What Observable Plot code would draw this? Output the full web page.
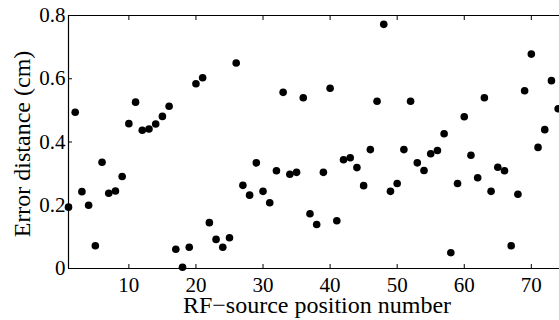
<!DOCTYPE html>
<html>
<head>
<meta charset="utf-8">
<script src="https://cdn.jsdelivr.net/npm/d3@7"></script>
<script src="https://cdn.jsdelivr.net/npm/@observablehq/plot@0.6"></script>
<style>
  html, body { margin: 0; padding: 0; background: #fff; overflow: hidden; }
  svg text { font-family: "Liberation Serif", "Times New Roman", serif; }
</style>
</head>
<body>
<div id="chart"></div>
<script>
const positions = d3.range(1, 75);
const errors = [
  0.194, 0.494, 0.243, 0.200, 0.072, 0.336, 0.238, 0.245, 0.291, 0.458,
  0.526, 0.437, 0.441, 0.457, 0.481, 0.513, 0.061, 0.004, 0.067, 0.584,
  0.603, 0.145, 0.092, 0.067, 0.097, 0.650, 0.263, 0.232, 0.334, 0.244,
  0.208, 0.309, 0.557, 0.298, 0.304, 0.540, 0.173, 0.139, 0.304, 0.570,
  0.151, 0.344, 0.350, 0.319, 0.262, 0.376, 0.529, 0.772, 0.244, 0.269,
  0.376, 0.529, 0.334, 0.310, 0.363, 0.373, 0.426, 0.050, 0.269, 0.480,
  0.358, 0.287, 0.540, 0.244, 0.320, 0.309, 0.072, 0.235, 0.562, 0.678,
  0.383, 0.439, 0.594, 0.505
];
const xTicks = [10, 20, 30, 40, 50, 60, 70];
const yTicks = [0, 0.2, 0.4, 0.6, 0.8];
const xLabel = "RF\u2212source position number";
const yLabel = "Error distance (cm)";

const data = positions.map((p, i) => ({position: p, error: errors[i]}));
const font = "Liberation Serif";

const chart = Plot.plot({
  width: 559,
  height: 320,
  marginLeft: 68,
  marginTop: 15,
  marginBottom: 52,
  marginRight: 0,
  style: {color: "black", background: "white", overflow: "hidden"},
  x: {domain: [1, 74.2]},
  y: {domain: [0, 0.8]},
  marks: [
    Plot.ruleY([0, 0.8], {stroke: "black", strokeWidth: 1.2}),
    Plot.ruleX([1], {stroke: "black", strokeWidth: 1.2}),
    // inward tick marks
    Plot.axisX({anchor: "bottom", ticks: xTicks, tickSize: -4, text: null, label: null, stroke: "black"}),
    Plot.axisX({anchor: "top", ticks: xTicks, tickSize: -4, text: null, label: null, stroke: "black"}),
    Plot.axisY({anchor: "left", ticks: yTicks, tickSize: -4, text: null, label: null, stroke: "black"}),
    // tick labels
    Plot.axisX({anchor: "bottom", ticks: xTicks, tickSize: 0, tickPadding: 9, fontSize: 21, fontFamily: font, fill: "black", label: null, tickFormat: d => String(d)}),
    Plot.axisY({anchor: "left", ticks: yTicks, tickSize: 0, tickPadding: 3, fontSize: 21, fontFamily: font, fill: "black", label: null, tickFormat: d => d === 0 ? "0" : d.toFixed(1)}),
    Plot.dot(data, {x: "position", y: "error", r: 3.8, fill: "black", stroke: "none", clip: false}),
    Plot.text([xLabel], {frameAnchor: "bottom", dy: 44, dx: 3, lineAnchor: "bottom", fontSize: 24, fontFamily: font, fill: "black", text: d => d}),
    Plot.text([yLabel], {frameAnchor: "left", dx: -39, dy: 2, rotate: -90, lineAnchor: "bottom", textAnchor: "middle", fontSize: 24, fontFamily: font, fill: "black", text: d => d})
  ]
});
document.getElementById("chart").appendChild(chart);
</script>
</body>
</html>
